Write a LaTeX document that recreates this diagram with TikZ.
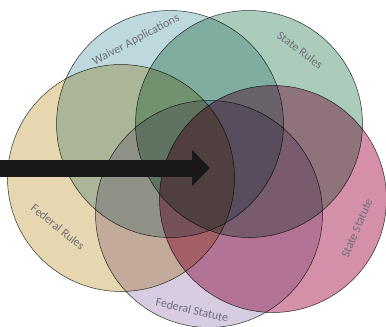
\documentclass[tikz,border=0pt]{standalone}
\usepackage{fontspec}
\setmainfont{Carlito}
\usetikzlibrary{arrows.meta}
\definecolor{cblue}{RGB}{145,192,200}
\definecolor{cgreen}{RGB}{115,170,140}
\definecolor{ctan}{RGB}{215,188,125}
\definecolor{cpink}{RGB}{185,70,112}
\definecolor{clav}{RGB}{190,170,205}
\definecolor{ctext}{RGB}{110,110,122}
\tikzset{
  venn/.style={circle, draw=black!80, line width=0.5pt, fill opacity=0.6, minimum size=227pt, inner sep=0pt},
  vlabel/.style={text=ctext, font=\fontsize{12}{14}\selectfont, inner sep=0pt},
  bigarrow/.style={line width=17pt, draw=black!90, -{Triangle[length=18pt,width=35pt]}}
}
\begin{document}
\begin{tikzpicture}[x=1pt,y=-1pt]
\useasboundingbox (0,0) rectangle (386,327);
\begin{scope}[blend group=multiply]
\node[venn, fill=cblue] (wa) at (170,124) {};
\node[venn, fill=cgreen] (sr) at (249,124) {};
\node[venn, fill=ctan] (fr) at (121,178) {};
\node[venn, fill=cpink] (ss) at (273,199) {};
\node[venn, fill=clav] (fs) at (209,214) {};
\end{scope}
\node[vlabel, rotate=28] (lwa) at (136,40) {Waiver Applications};
\node[vlabel, rotate=-37] (lsr) at (300,50) {State Rules};
\node[vlabel, rotate=-39] (lfr) at (58,227) {Federal Rules};
\node[vlabel, rotate=-13] (lfs) at (192,310) {Federal Statute};
\node[vlabel, rotate=67] (lss) at (357,228) {State Statute};
\coordinate (astart) at (0,168);
\coordinate (aend) at (210,168);
\draw[bigarrow] (astart) -- (aend);
\end{tikzpicture}
\end{document}
